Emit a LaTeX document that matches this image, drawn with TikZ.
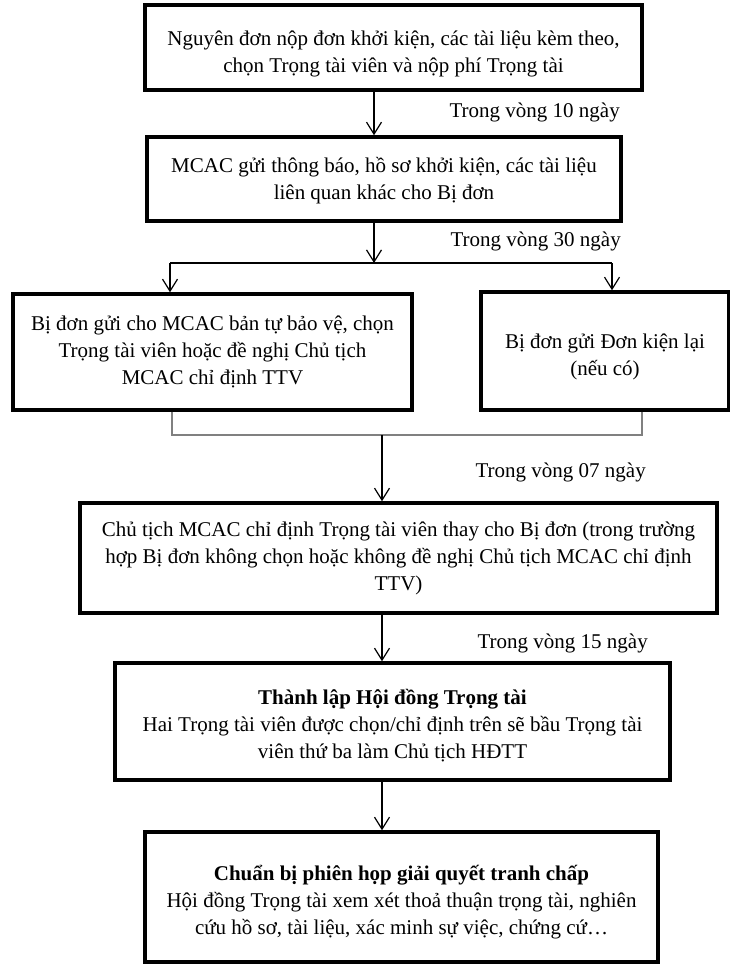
\documentclass[tikz,border=0pt]{standalone}
\usepackage{fontspec}
\setmainfont{Liberation Serif}
\usetikzlibrary{arrows.meta}
\begin{document}
\begin{tikzpicture}[x=1pt,y=-1pt,
  box/.style={draw, line width=3.5pt, inner sep=0pt},
  txt/.style={align=center, inner sep=0pt, font=\fontsize{21}{27}\selectfont},
  lbl/.style={font=\fontsize{21}{27}\selectfont, inner sep=0pt, anchor=east},
  conn/.style={line width=1.2pt, -{Straight Barb[length=12pt,width=15pt,line width=1.2pt]}},
  plainline/.style={line width=1.2pt},
  grayline/.style={line width=1.6pt, draw=black!50}]
\useasboundingbox (0,0) rectangle (730,964);
\node[box, minimum width=497, minimum height=85] (b1) at (393.5,47.5) {};
\node[box, minimum width=474, minimum height=84] (b2) at (384,179) {};
\node[box, minimum width=399, minimum height=116] (b3) at (212.5,352) {};
\node[box, minimum width=248, minimum height=118] (b4) at (605,351) {};
\node[box, minimum width=637, minimum height=110] (b5) at (398.5,558) {};
\node[box, minimum width=555, minimum height=117] (b6) at (392.5,721.5) {};
\node[box, minimum width=513, minimum height=130] (b7) at (401.5,897) {};
\node[txt, yshift=-6pt] (t1) at (b1.center)
  {Nguyên đơn nộp đơn khởi kiện, các tài liệu kèm theo,\\chọn Trọng tài viên và nộp phí Trọng tài};
\node[txt, yshift=-2pt] (t2) at (b2.center)
  {MCAC gửi thông báo, hồ sơ khởi kiện, các tài liệu\\liên quan khác cho Bị đơn};
\node[txt] (t3) at (b3.center)
  {Bị đơn gửi cho MCAC bản tự bảo vệ, chọn\\Trọng tài viên hoặc đề nghị Chủ tịch\\MCAC chỉ định TTV};
\node[txt, yshift=-6pt] (t4) at (b4.center)
  {Bị đơn gửi Đơn kiện lại\\(nếu có)};
\node[txt] (t5) at (b5.center)
  {Chủ tịch MCAC chỉ định Trọng tài viên thay cho Bị đơn (trong trường\\hợp Bị đơn không chọn hoặc không đề nghị Chủ tịch MCAC chỉ định\\TTV)};
\node[txt, yshift=-4pt] (t6) at (b6.center)
  {\textbf{Thành lập Hội đồng Trọng tài}\\Hai Trọng tài viên được chọn/chỉ định trên sẽ bầu Trọng tài\\viên thứ ba làm Chủ tịch HĐTT};
\node[txt, yshift=-5pt] (t7) at (b7.center)
  {\textbf{Chuẩn bị phiên họp giải quyết tranh chấp}\\Hội đồng Trọng tài xem xét thoả thuận trọng tài, nghiên\\cứu hồ sơ, tài liệu, xác minh sự việc, chứng cứ…};
\coordinate (xA) at (374,0);
\coordinate (xB) at (382,0);
\coordinate (xL) at (170,0);
\coordinate (xR) at (612,0);
\coordinate (gL) at (172,0);
\coordinate (gR) at (642,0);
\coordinate (split) at (374,263);
\coordinate (join) at (382,435);
\draw[conn] (b1.south -| xA) -- (b2.north -| xA);
\draw[conn] (b2.south -| xA) -- (split);
\draw[plainline] (split -| xL) -- (split -| xR);
\draw[conn] (split -| xL) -- (b3.north -| xL);
\draw[conn] (split -| xR) -- (b4.north -| xR);
\draw[grayline] (b3.south -| gL) |- (join) -| (b4.south -| gR);
\draw[conn] (join) -- (b5.north -| xB);
\draw[conn] (b5.south -| xB) -- (b6.north -| xB);
\draw[conn] (b6.south -| xB) -- (b7.north -| xB);
\node[lbl] (l1) at (620,112) {Trong vòng 10 ngày};
\node[lbl] (l2) at (621,241) {Trong vòng 30 ngày};
\node[lbl] (l3) at (646,472) {Trong vòng 07 ngày};
\node[lbl] (l4) at (648,643) {Trong vòng 15 ngày};
\end{tikzpicture}
\end{document}
